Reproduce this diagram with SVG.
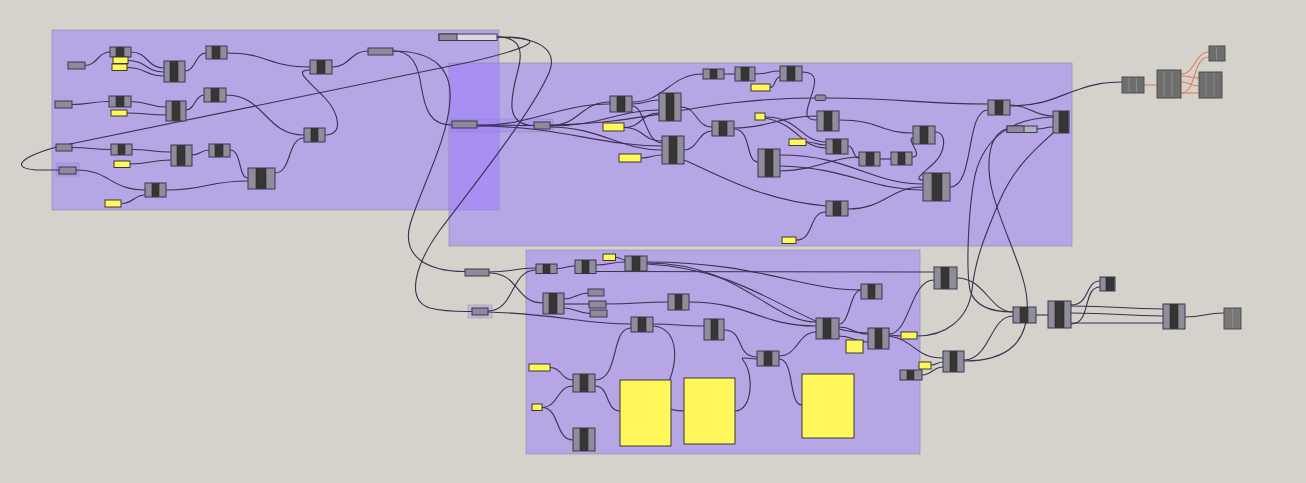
<svg xmlns="http://www.w3.org/2000/svg" width="1306" height="483" viewBox="0 0 1306 483">
<style>
.grp{fill:rgb(151,122,255);fill-opacity:.5;stroke:#8f86a8;stroke-opacity:.6;stroke-width:1}
.sg{fill:rgb(151,122,255);fill-opacity:.3;stroke:#8f86a8;stroke-opacity:.4}
.w path{fill:none;stroke:#3a3050;stroke-width:1.1}
.r path{fill:none;stroke:#e07a62;stroke-width:1.1}
.o{fill:#908c9a;stroke:#3d3652;stroke-width:1}
.i{fill:#363636;stroke:#2a2a2a;stroke-width:.6}
.p{fill:#8e8a99;stroke:#3d3652;stroke-width:1}
.y{fill:#fff75c;stroke:#3a3a2a;stroke-width:1}
.d{fill:#6e6e6e;stroke:#4e4e4e;stroke-width:1}
.dl{stroke:#8c8c8c;stroke-width:1}
.lt{fill:#d9d8dd;stroke:#3d3652;stroke-width:1}
.bl{fill:#aab3bb;stroke:#3d3652;stroke-width:1}
</style>
<rect x="0" y="0" width="1306" height="483" fill="#d5d2cb"/>
<g id="groups">
<rect class="grp" x="52" y="30" width="447" height="180"/>
<rect class="grp" x="449" y="63" width="623" height="183"/>
<rect class="grp" x="526" y="250" width="394" height="204"/>
<rect class="sg" x="450" y="119" width="103" height="13"/>
<rect class="sg" x="56" y="163" width="23" height="13"/>
<rect class="sg" x="468" y="305" width="24" height="13"/>
</g>
<g id="connectors" class="w">
<path d="M85,65.5 C97,65.5 98,52 110,52"/>
<path d="M131,52 C148,52 147,68 164,68"/>
<path d="M128,60.5 C146,60.5 146,72 164,72"/>
<path d="M127,67.5 C146,67.5 145,76 164,76"/>
<path d="M185,71 C196,71 195,53 206,53"/>
<path d="M227,53 C268,53 268,67 310,67"/>
<path d="M332,67 C350,67 350,51 368,51"/>
<path d="M72,104.5 C90,104.5 91,101.5 109,101.5"/>
<path d="M131,101.5 C148,101.5 149,107 166,107"/>
<path d="M127,113 C146,113 147,115 166,115"/>
<path d="M186,110 C195,110 195,95 204,95"/>
<path d="M226,95 C265,95 265,135 304,135"/>
<path d="M325,135 C345,135 338,112 325,98 C310,82 292,70 310,70"/>
<path d="M72,147.5 C92,147.5 91,149.5 111,149.5"/>
<path d="M132,149.5 C152,149.5 151,152 171,152"/>
<path d="M130,164 C150,164 151,160 171,160"/>
<path d="M192,155 C200,155 201,150 209,150"/>
<path d="M230,150 C242,150 238,178 248,178"/>
<path d="M76,170 C110,170 110,190 145,190"/>
<path d="M122,203.5 C133,203.5 134,195 145,195"/>
<path d="M166,190 C207,190 207,181 248,181"/>
<path d="M275,173 C292,173 287,138 304,138"/>
<path d="M497,37 C555,37 530,48 470,62 L70,144 C40,150 18,160 22,166 C26,171 45,170 59,170"/>
<path d="M497,37 C515,37 525,45 518,70 C510,100 505,125 534,125.5"/>
<path d="M497,37 C540,37 560,50 548,75 C530,115 470,190 440,230 C415,265 405,300 430,308 C445,312 460,311.5 472,311.5"/>
<path d="M393,51 C412,51 418,65 421,85 C425,110 430,125 452,125"/>
<path d="M393,51 C435,51 452,70 450,100 C448,140 420,190 410,225 C402,255 425,271.5 465,271.5"/>
<path d="M477,125 C505,125 506,125.5 534,125.5"/>
<path d="M477,125.5 C530,126 560,104 610,104"/>
<path d="M477,126 C560,126 600,146 662,146"/>
<path d="M550,125.5 C580,125.5 580,102 610,102"/>
<path d="M550,126 C600,126 620,110 659,110"/>
<path d="M550,127 C600,127 620,150 662,150"/>
<path d="M550,125 C650,124 700,98 815,98"/>
<path d="M624,127.5 C642,127.5 641,113 659,113"/>
<path d="M624,127.5 C643,127.5 643,141 662,141"/>
<path d="M641,158 C651,158 652,155 662,155"/>
<path d="M632,102 C665,102 670,74 703,74"/>
<path d="M632,104 C646,104 646,100 659,100"/>
<path d="M632,106 C645,106 645,143 662,143"/>
<path d="M681,107 C697,107 696,127 712,127"/>
<path d="M684,150 C698,150 698,131 712,131"/>
<path d="M684,160 C720,175 760,200 826,206"/>
<path d="M724,74 L735,74"/>
<path d="M755,74 C768,74 768,71 780,71"/>
<path d="M770,87.5 C776,87.5 774,77 780,77"/>
<path d="M802,72 C820,72 815,85 810,100 C805,115 805,120 817,120"/>
<path d="M734,128 C770,128 780,116 817,116"/>
<path d="M734,129 C752,129 745,162 758,162"/>
<path d="M765,117 C800,117 800,142 826,142"/>
<path d="M765,118 C800,125 800,148 826,148"/>
<path d="M806,142 C816,142 816,145 826,145"/>
<path d="M839,120 C880,120 880,133 913,133"/>
<path d="M848,146 C855,146 852,158 859,158"/>
<path d="M880,159 L891,159"/>
<path d="M912,157 C925,157 905,138 913,138"/>
<path d="M935,132 C948,132 945,152 935,162 C925,172 912,180 923,180"/>
<path d="M780,171 C820,170 830,157 859,157"/>
<path d="M780,155 C850,155 870,184 923,184"/>
<path d="M780,166 C850,168 870,190 923,190"/>
<path d="M848,209 C885,209 890,187 923,187"/>
<path d="M796,240 C815,240 808,212 826,212"/>
<path d="M950,187 C975,187 965,110 988,110"/>
<path d="M826,98 C900,98 920,104 988,104"/>
<path d="M1010,105 C1030,105 1033,116 1053,116"/>
<path d="M1010,106 C1045,106 1060,95 1080,89 C1095,84 1105,82 1122,82"/>
<path d="M1037,129 C1045,129 1045,127 1053,127"/>
<path d="M1053,117 C1015,118 985,135 975,175 C968,210 966,270 970,290 C975,308 995,312 1013,312"/>
<path d="M1053,133 C1040,145 1015,165 1000,200 C985,235 975,260 972,290 C968,320 945,336 917,336"/>
<path d="M1007,129 C990,133 985,160 992,190 C1000,225 1025,270 1027,300 C1030,340 1010,361 964,361"/>
<path d="M489,272 C515,272 512,268 536,268"/>
<path d="M489,273 C520,273 515,303 543,303"/>
<path d="M488,311 C515,311 510,270 536,270"/>
<path d="M488,312 C560,314 580,324 631,324"/>
<path d="M557,268.5 C566,268.5 566,266 575,266"/>
<path d="M596,265 C610,265 611,262 625,262"/>
<path d="M615,257 C620,257 621,260 625,260"/>
<path d="M596,271.5 L934,272"/>
<path d="M647,262 C760,262 800,290 861,290"/>
<path d="M647,263 C740,263 770,322 816,322"/>
<path d="M647,264 C760,270 800,333 868,333"/>
<path d="M564,299 C575,299 577,293 588,293"/>
<path d="M564,304 L589,304"/>
<path d="M564,308 C576,308 578,313.5 590,313.5"/>
<path d="M606,304 C640,304 635,302 668,302"/>
<path d="M689,302 C750,302 760,326 816,326"/>
<path d="M653,324 C678,324 678,326 704,326"/>
<path d="M653,326 C682,328 678,370 664,390 C656,403 665,411 684,411"/>
<path d="M724,330 C745,330 735,357 757,357"/>
<path d="M735,411 C752,411 755,375 743,360 C740,356 748,359 757,359"/>
<path d="M779,356 C798,356 798,332 816,332"/>
<path d="M779,359 C795,359 788,405 802,405"/>
<path d="M839,324 C850,324 850,290 861,290"/>
<path d="M839,327 C853,327 853,334 868,334"/>
<path d="M839,336 C853,336 854,342 868,342"/>
<path d="M889,335 C895,335 895,336 901,336"/>
<path d="M889,334 C910,334 910,280 934,280"/>
<path d="M889,336 C915,340 915,358 943,358"/>
<path d="M931,365 C937,365 937,362 943,362"/>
<path d="M922,375 C932,375 933,367 943,367"/>
<path d="M957,278 C985,278 990,312 1013,312"/>
<path d="M964,360 C990,360 990,316 1013,316"/>
<path d="M550,367.5 C562,367.5 561,380 573,380"/>
<path d="M542,407.5 C558,407.5 557,386 573,386"/>
<path d="M542,407.5 C560,407.5 555,440 573,440"/>
<path d="M595,380 C620,380 610,328 631,328"/>
<path d="M595,386 C610,386 605,411 620,411"/>
<path d="M1036,315 L1048,315"/>
<path d="M1071,305 C1090,305 1085,281 1100,281"/>
<path d="M1071,324 C1092,324 1082,287 1100,287"/>
<path d="M1071,306 C1120,306 1120,309 1163,309"/>
<path d="M1071,313 C1120,313 1120,316 1163,316"/>
<path d="M1071,323 C1120,323 1120,323 1163,323"/>
<path d="M1185,317 C1205,317 1204,313 1224,313"/>
</g>
<g id="red-connectors" class="r">
<path d="M1144,85 L1157,85"/>
<path d="M1181,74 C1195,74 1195,52 1209,52"/>
<path d="M1181,93 C1197,93 1192,57 1209,57"/>
<path d="M1181,76 C1190,76 1190,78 1199,78"/>
<path d="M1181,82 C1190,82 1190,86 1199,86"/>
<path d="M1181,93 C1190,93 1190,93 1199,93"/>
</g>
<g id="nodes">
<g id="c1"><rect class="o" x="110" y="47" width="21" height="10"/><rect class="i" x="116" y="47.5" width="8" height="9"/></g>
<g id="c2"><rect class="o" x="164" y="61" width="21" height="21"/><rect class="i" x="170" y="61.5" width="8" height="20"/></g>
<g id="c3"><rect class="o" x="206" y="46" width="21" height="13"/><rect class="i" x="212" y="46.5" width="8" height="12"/></g>
<g id="c4"><rect class="o" x="310" y="60" width="22" height="14"/><rect class="i" x="317" y="60.5" width="8" height="13"/></g>
<g id="c5"><rect class="o" x="109" y="96" width="22" height="11"/><rect class="i" x="116" y="96.5" width="8" height="10"/></g>
<g id="c6"><rect class="o" x="166" y="101" width="20" height="20"/><rect class="i" x="172" y="101.5" width="8" height="19"/></g>
<g id="c7"><rect class="o" x="204" y="88" width="22" height="14"/><rect class="i" x="211" y="88.5" width="8" height="13"/></g>
<g id="c8"><rect class="o" x="304" y="128" width="21" height="14"/><rect class="i" x="311" y="128.5" width="7" height="13"/></g>
<g id="c9"><rect class="o" x="111" y="144" width="21" height="11"/><rect class="i" x="118" y="144.5" width="7" height="10"/></g>
<g id="c10"><rect class="o" x="171" y="145" width="21" height="21"/><rect class="i" x="177" y="145.5" width="8" height="20"/></g>
<g id="c11"><rect class="o" x="209" y="144" width="21" height="13"/><rect class="i" x="215" y="144.5" width="8" height="12"/></g>
<g id="c12"><rect class="o" x="145" y="183" width="21" height="14"/><rect class="i" x="152" y="183.5" width="7" height="13"/></g>
<g id="c13"><rect class="o" x="248" y="168" width="27" height="21"/><rect class="i" x="256" y="168.5" width="10" height="20"/></g>
<g id="p1"><rect class="p" x="68" y="62" width="17" height="7"/></g>
<g id="p2"><rect class="p" x="55" y="101" width="17" height="7"/></g>
<g id="p3"><rect class="p" x="56" y="144" width="16" height="7"/></g>
<g id="p4"><rect class="p" x="59" y="167" width="17" height="7"/></g>
<g id="y1"><rect class="y" x="113" y="57" width="15" height="6.5"/></g>
<g id="y2"><rect class="y" x="112" y="64" width="15" height="6.5"/></g>
<g id="y3"><rect class="y" x="111" y="110" width="16" height="6"/></g>
<g id="y4"><rect class="y" x="114" y="161" width="16" height="6.5"/></g>
<g id="y5"><rect class="y" x="105" y="200" width="16" height="7"/></g>
<g id="p5"><rect class="p" x="368" y="48" width="25" height="7"/></g>
<g id="slider"><rect class="lt" x="439" y="34" width="58" height="6.5"/><rect class="p" x="439" y="34" width="18" height="6.5"/></g>
<g id="p6"><rect class="p" x="452" y="121" width="25" height="7"/></g>
<g id="p7"><rect class="p" x="534" y="122" width="16" height="7"/></g>
<g id="c14"><rect class="o" x="610" y="96" width="22" height="16"/><rect class="i" x="617" y="96.5" width="8" height="15"/></g>
<g id="c15"><rect class="o" x="659" y="93" width="22" height="28"/><rect class="i" x="666" y="93.5" width="8" height="27"/></g>
<g id="y6"><rect class="y" x="603" y="123" width="21" height="8"/></g>
<g id="y7"><rect class="y" x="619" y="154" width="22" height="8"/></g>
<g id="c16"><rect class="o" x="662" y="136" width="22" height="28"/><rect class="i" x="669" y="136.5" width="8" height="27"/></g>
<g id="c17"><rect class="o" x="712" y="121" width="22" height="15"/><rect class="i" x="719" y="121.5" width="8" height="14"/></g>
<g id="c18"><rect class="o" x="703" y="69" width="21" height="10"/><rect class="i" x="710" y="69.5" width="7" height="9"/></g>
<g id="c19"><rect class="o" x="735" y="67" width="20" height="14"/><rect class="i" x="741" y="67.5" width="8" height="13"/></g>
<g id="y8"><rect class="y" x="751" y="84" width="19" height="7"/></g>
<g id="c20"><rect class="o" x="780" y="66" width="22" height="15"/><rect class="i" x="787" y="66.5" width="8" height="14"/></g>
<g id="p8"><rect class="p" x="815" y="95" width="11" height="5.5" rx="2"/></g>
<g id="y9"><rect class="y" x="755" y="113" width="10" height="7"/></g>
<g id="c21"><rect class="o" x="817" y="111" width="22" height="20"/><rect class="i" x="824" y="111.5" width="8" height="19"/></g>
<g id="y10"><rect class="y" x="789" y="139" width="17" height="6.5"/></g>
<g id="c22"><rect class="o" x="826" y="139" width="22" height="15"/><rect class="i" x="833" y="139.5" width="8" height="14"/></g>
<g id="c23"><rect class="o" x="758" y="149" width="22" height="28"/><rect class="i" x="765" y="149.5" width="8" height="27"/></g>
<g id="c24"><rect class="o" x="859" y="152" width="21" height="14"/><rect class="i" x="866" y="152.5" width="8" height="13"/></g>
<g id="c25"><rect class="o" x="891" y="152" width="21" height="13"/><rect class="i" x="898" y="152.5" width="7" height="12"/></g>
<g id="c26"><rect class="o" x="913" y="126" width="22" height="18"/><rect class="i" x="920" y="126.5" width="8" height="17"/></g>
<g id="c27"><rect class="o" x="923" y="173" width="27" height="28"/><rect class="i" x="932" y="173.5" width="10" height="27"/></g>
<g id="c28"><rect class="o" x="826" y="201" width="22" height="15"/><rect class="i" x="833" y="201.5" width="8" height="14"/></g>
<g id="y11"><rect class="y" x="782" y="237" width="14" height="6.5"/></g>
<g id="c29"><rect class="o" x="988" y="100" width="22" height="15"/><rect class="i" x="995" y="100.5" width="8" height="14"/></g>
<g id="p9"><rect class="bl" x="1007" y="126" width="30" height="6.5"/><rect class="p" x="1007" y="126" width="17" height="6.5"/></g>
<g id="c30"><rect class="o" x="1053" y="111" width="16" height="22"/><rect class="i" x="1059" y="111.5" width="9" height="21"/></g>
<g id="d1"><rect class="d" x="1122" y="77" width="22" height="16"/><path class="dl" d="M1129,78V92M1136.5,78V92"/></g>
<g id="d2"><rect class="d" x="1157" y="70" width="24" height="28"/><path class="dl" d="M1164,71V97M1172,71V97"/></g>
<g id="d3"><rect class="d" x="1209" y="46" width="16" height="15"/><path class="dl" d="M1216.5,47V60"/></g>
<g id="d4"><rect class="d" x="1199" y="72" width="23" height="26"/><path class="dl" d="M1206,73V97M1214,73V97"/></g>
<g id="p10"><rect class="p" x="465" y="269" width="24" height="7"/></g>
<g id="p11"><rect class="p" x="472" y="308" width="16" height="7"/></g>
<g id="c31"><rect class="o" x="536" y="264" width="21" height="9.5"/><rect class="i" x="543" y="264.5" width="7" height="8.5"/></g>
<g id="c32"><rect class="o" x="575" y="260" width="21" height="13.5"/><rect class="i" x="582" y="260.5" width="7" height="12.5"/></g>
<g id="y12"><rect class="y" x="603" y="254" width="12.5" height="6.5"/></g>
<g id="c33"><rect class="o" x="625" y="256" width="22" height="15"/><rect class="i" x="632" y="256.5" width="8" height="14"/></g>
<g id="c34"><rect class="o" x="543" y="293" width="21" height="21"/><rect class="i" x="549" y="293.5" width="8" height="20"/></g>
<g id="p12"><rect class="p" x="588" y="289" width="16" height="7"/></g>
<g id="p13"><rect class="p" x="589" y="301" width="17" height="7"/></g>
<g id="p14"><rect class="p" x="590" y="310" width="17" height="7"/></g>
<g id="c35"><rect class="o" x="668" y="294" width="21" height="16"/><rect class="i" x="675" y="294.5" width="7" height="15"/></g>
<g id="c36"><rect class="o" x="631" y="317" width="22" height="15"/><rect class="i" x="638" y="317.5" width="8" height="14"/></g>
<g id="y13"><rect class="y" x="529" y="364" width="21" height="7"/></g>
<g id="c37"><rect class="o" x="573" y="374" width="22" height="18"/><rect class="i" x="580" y="374.5" width="8" height="17"/></g>
<g id="y14"><rect class="y" x="532" y="404" width="10" height="6.5"/></g>
<g id="c38"><rect class="o" x="573" y="428" width="22" height="23"/><rect class="i" x="580" y="428.5" width="8" height="22"/></g>
<g id="b1"><rect class="y" x="620" y="380" width="51" height="66"/></g>
<g id="b2"><rect class="y" x="684" y="378" width="51" height="66"/></g>
<g id="b3"><rect class="y" x="802" y="374" width="52" height="64"/></g>
<g id="c39"><rect class="o" x="704" y="319" width="20" height="21"/><rect class="i" x="711" y="319.5" width="7" height="20"/></g>
<g id="c40"><rect class="o" x="757" y="351" width="22" height="15"/><rect class="i" x="764" y="351.5" width="8" height="14"/></g>
<g id="c41"><rect class="o" x="816" y="318" width="23" height="21"/><rect class="i" x="823" y="318.5" width="8" height="20"/></g>
<g id="c42"><rect class="o" x="861" y="284" width="21" height="15"/><rect class="i" x="868" y="284.5" width="7" height="14"/></g>
<g id="y15"><rect class="y" x="846" y="340" width="17" height="13"/></g>
<g id="c43"><rect class="o" x="868" y="328" width="21" height="21"/><rect class="i" x="875" y="328.5" width="7" height="20"/></g>
<g id="y16"><rect class="y" x="901" y="332" width="16" height="7"/></g>
<g id="c44"><rect class="o" x="934" y="267" width="23" height="22"/><rect class="i" x="941" y="267.5" width="8" height="21"/></g>
<g id="y17"><rect class="y" x="919" y="362" width="12" height="7"/></g>
<g id="c45"><rect class="o" x="900" y="370" width="22" height="10"/><rect class="i" x="907" y="370.5" width="7" height="9"/></g>
<g id="c46"><rect class="o" x="943" y="351" width="21" height="21"/><rect class="i" x="950" y="351.5" width="7" height="20"/></g>
<g id="c47"><rect class="o" x="1013" y="307" width="23" height="16"/><rect class="i" x="1020" y="307.5" width="8" height="15"/></g>
<g id="c48"><rect class="o" x="1048" y="301" width="23" height="27"/><rect class="i" x="1055" y="301.5" width="9" height="26"/></g>
<g id="c49"><rect class="o" x="1100" y="277" width="15" height="14"/><rect class="i" x="1106" y="277.5" width="8" height="13"/></g>
<g id="c50"><rect class="o" x="1163" y="304" width="22" height="25"/><rect class="i" x="1170" y="304.5" width="8" height="24"/></g>
<g id="d5"><rect class="d" x="1224" y="308" width="17" height="21" style="fill:#777"/><path class="dl" d="M1232.5,309V328"/></g>
</g>
</svg>
